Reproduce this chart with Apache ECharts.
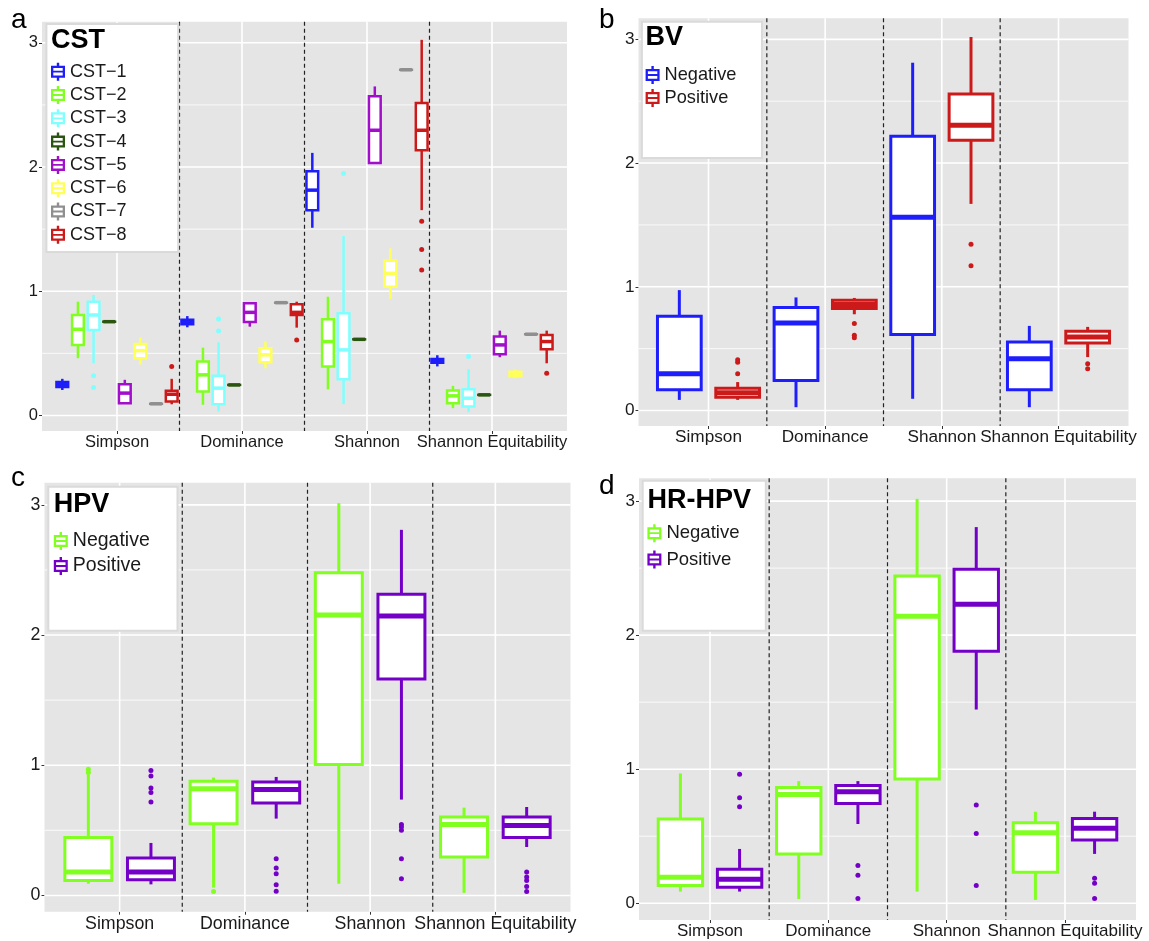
<!DOCTYPE html>
<html>
<head>
<meta charset="utf-8">
<script src="https://cdn.jsdelivr.net/npm/echarts@6/dist/echarts.min.js"></script>
<style>
html,body{margin:0;padding:0;background:#fff;}
#chart{width:1149px;height:941px;}
</style>
</head>
<body>
<div id="chart"></div>
<script>
// ---------- data ----------
const metrics = ['Simpson', 'Dominance', 'Shannon', 'Shannon Equitability'];
const yTicks = [0, 1, 2, 3];
const yMinor = [0.5, 1.5, 2.5];

// each stat row: [lower whisker, Q1, median, Q3, upper whisker], one row per metric
const cstNames = ['CST−1', 'CST−2', 'CST−3', 'CST−4', 'CST−5', 'CST−6', 'CST−7', 'CST−8'];
const cst1 = [[0.205, 0.23, 0.25, 0.27, 0.295], [0.71, 0.735, 0.753, 0.77, 0.80], [1.511, 1.653, 1.814, 1.966, 2.114], [0.395, 0.425, 0.439, 0.455, 0.485]];
const cst2 = [[0.461, 0.568, 0.694, 0.809, 0.916], [0.086, 0.193, 0.327, 0.434, 0.546], [0.21, 0.394, 0.595, 0.774, 0.956], [0.059, 0.099, 0.158, 0.201, 0.238]];
const cst3 = [[0.42, 0.688, 0.809, 0.916, 0.97], [0.032, 0.091, 0.22, 0.319, 0.589], [0.091, 0.292, 0.528, 0.822, 1.444], [0.027, 0.072, 0.139, 0.212, 0.372]];
const cst4 = [[0.755, 0.755, 0.755, 0.755, 0.755], [0.246, 0.246, 0.246, 0.246, 0.246], [0.613, 0.613, 0.613, 0.613, 0.613], [0.166, 0.166, 0.166, 0.166, 0.166]];
const cst5 = [[0.099, 0.099, 0.18, 0.252, 0.287], [0.715, 0.753, 0.83, 0.903, 0.903], [2.033, 2.033, 2.296, 2.569, 2.649], [0.469, 0.493, 0.568, 0.635, 0.683]];
const cst6 = [[0.41, 0.461, 0.522, 0.576, 0.627], [0.38, 0.429, 0.488, 0.541, 0.595], [0.938, 1.037, 1.144, 1.246, 1.345], [0.30, 0.315, 0.335, 0.352, 0.37]];
const cst7 = [[0.094, 0.094, 0.094, 0.094, 0.094], [0.908, 0.908, 0.908, 0.908, 0.908], [2.783, 2.783, 2.783, 2.783, 2.783], [0.654, 0.654, 0.654, 0.654, 0.654]];
const cst8 = [[0.09, 0.112, 0.171, 0.20, 0.295], [0.707, 0.809, 0.83, 0.895, 0.916], [1.653, 2.135, 2.296, 2.515, 3.024], [0.42, 0.533, 0.595, 0.648, 0.683]];
const cst3Out = [[0.32, 0.225], [0.777, 0.68], [1.948], [0.474]];
const cst8Out = [[0.394], [0.608], [1.564, 1.337, 1.171], [0.34]];
const noOut = [[], [], [], []];

const statusNames = ['Negative', 'Positive'];
const bvNeg = [[0.086, 0.168, 0.297, 0.762, 0.973], [0.027, 0.243, 0.708, 0.832, 0.914], [0.095, 0.614, 1.562, 2.216, 2.811], [0.027, 0.168, 0.419, 0.554, 0.684]];
const bvPos = [[0.086, 0.108, 0.143, 0.181, 0.23], [0.778, 0.824, 0.857, 0.892, 0.91], [1.67, 2.184, 2.305, 2.559, 3.019], [0.432, 0.546, 0.595, 0.641, 0.676]];
const bvPosOut = [[0.41, 0.39, 0.297], [0.703, 0.608, 0.589], [1.343, 1.17], [0.378, 0.338]];

const hpvNeg = [[0.09, 0.115, 0.179, 0.444, 0.93], [0.06, 0.551, 0.82, 0.877, 0.905], [0.09, 1.005, 2.154, 2.479, 3.013], [0.02, 0.295, 0.544, 0.603, 0.674]];
const hpvPos = [[0.085, 0.121, 0.179, 0.287, 0.403], [0.59, 0.71, 0.813, 0.872, 0.91], [0.736, 1.662, 2.146, 2.313, 2.808], [0.372, 0.444, 0.538, 0.603, 0.679]];
const hpvNegOut = [[0.97, 0.945], [0.03], [], []];
const hpvPosOut = [[0.96, 0.918, 0.826, 0.79, 0.718], [0.282, 0.21, 0.167, 0.082, 0.033], [0.544, 0.526, 0.50, 0.282, 0.128], [0.179, 0.141, 0.115, 0.069, 0.031]];

const hrNeg = [[0.087, 0.132, 0.194, 0.628, 0.968], [0.032, 0.368, 0.812, 0.864, 0.911], [0.087, 0.926, 2.14, 2.441, 3.017], [0.025, 0.231, 0.526, 0.601, 0.683]];
const hrPos = [[0.087, 0.119, 0.179, 0.253, 0.405], [0.591, 0.745, 0.832, 0.879, 0.911], [1.445, 1.88, 2.23, 2.491, 2.806], [0.368, 0.472, 0.559, 0.633, 0.683]];
const hrPosOut = [[0.963, 0.787, 0.72], [0.281, 0.209, 0.035], [0.733, 0.521, 0.132], [0.186, 0.149, 0.035]];

// ---------- styling / layout ----------
const FONT = '"Liberation Sans", Arial, Helvetica, sans-serif';
const C = {
  blue: '#1E1EFA', green: '#80FF20', cyan: '#80FFFF', dkgreen: '#2A5510',
  purpleA: '#A10FCB', yellow: '#FFFF5A', gray: '#8F8F8F', red: '#CC1A1A', purple: '#7400C8'
};
const ICON = 'path://M6.8,0H9.2V3H15V15H9.2V18H6.8V15H1V3H6.8Z M3.3,5.3V8.1H12.7V5.3Z M3.3,9.9V12.7H12.7V9.9Z';

const panels = [
  {
    key: 'CST', letter: 'a', heading: 'CST',
    grid: { left: 42, top: 21.7, width: 525, height: 409.3 },
    fs: 16.5, lw: 2.5, med: 3.5,
    letterPos: [11, 6], headPos: [51, 27],
    legendPos: [51, 62.7], legendFs: 18, legendGap: 5.3,
    box: [46.4, 24, 131.8, 228],
    groups: [
      { label: cstNames[0], color: C.blue, stats: cst1, out: noOut },
      { label: cstNames[1], color: C.green, stats: cst2, out: noOut },
      { label: cstNames[2], color: C.cyan, stats: cst3, out: cst3Out },
      { label: cstNames[3], color: C.dkgreen, stats: cst4, out: noOut },
      { label: cstNames[4], color: C.purpleA, stats: cst5, out: noOut },
      { label: cstNames[5], color: C.yellow, stats: cst6, out: noOut },
      { label: cstNames[6], color: C.gray, stats: cst7, out: noOut },
      { label: cstNames[7], color: C.red, stats: cst8, out: cst8Out }
    ]
  },
  {
    key: 'BV', letter: 'b', heading: 'BV',
    grid: { left: 638.5, top: 18.3, width: 490, height: 407.7 },
    fs: 17.2, lw: 3, med: 5,
    letterPos: [599, 6], headPos: [645.6, 24],
    legendPos: [645.6, 66], legendFs: 18.2, legendGap: 5,
    box: [641.9, 21.7, 120.1, 136.3],
    groups: [
      { label: statusNames[0], color: C.blue, stats: bvNeg, out: noOut },
      { label: statusNames[1], color: C.red, stats: bvPos, out: bvPosOut }
    ]
  },
  {
    key: 'HPV', letter: 'c', heading: 'HPV',
    grid: { left: 44.5, top: 482.7, width: 526, height: 429 },
    fs: 17.8, lw: 3, med: 5,
    letterPos: [11, 464], headPos: [53.8, 491],
    legendPos: [53.8, 531], legendFs: 19.5, legendGap: 5,
    box: [48.3, 486.7, 129.2, 144],
    groups: [
      { label: statusNames[0], color: C.green, stats: hpvNeg, out: hpvNegOut },
      { label: statusNames[1], color: C.purple, stats: hpvPos, out: hpvPosOut }
    ]
  },
  {
    key: 'HR-HPV', letter: 'd', heading: 'HR-HPV',
    grid: { left: 639, top: 478.3, width: 497, height: 441.7 },
    fs: 17, lw: 3, med: 5,
    letterPos: [599, 472], headPos: [647.4, 487],
    legendPos: [647.4, 523.7], legendFs: 18.5, legendGap: 7.3,
    box: [642.7, 480.7, 123.1, 150],
    groups: [
      { label: statusNames[0], color: C.green, stats: hrNeg, out: noOut },
      { label: statusNames[1], color: C.purple, stats: hrPos, out: hrPosOut }
    ]
  }
];

const YMIN = -0.125, YMAX = 3.17;

function boxRenderer(boxW, color, lw, medW) {
  return function (params, api) {
    const x = api.value(0);
    const lo = api.coord([x, api.value(1)]);
    const q1 = api.coord([x, api.value(2)]);
    const md = api.coord([x, api.value(3)]);
    const q3 = api.coord([x, api.value(4)]);
    const hi = api.coord([x, api.value(5)]);
    const half = api.size([boxW, 0])[0] / 2;
    const px = md[0];
    return {
      type: 'group',
      children: [
        { type: 'line', shape: { x1: px, y1: hi[1], x2: px, y2: q3[1] }, style: { stroke: color, lineWidth: lw } },
        { type: 'line', shape: { x1: px, y1: q1[1], x2: px, y2: lo[1] }, style: { stroke: color, lineWidth: lw } },
        { type: 'rect', shape: { x: px - half, y: q3[1], width: 2 * half, height: Math.max(q1[1] - q3[1], 0.01) }, style: { fill: '#fff', stroke: color, lineWidth: lw } },
        { type: 'line', shape: { x1: px - half, y1: md[1], x2: px + half, y2: md[1] }, style: { stroke: color, lineWidth: medW } }
      ]
    };
  };
}

function hLineSeries(gi, values, width) {
  return {
    type: 'custom', xAxisIndex: gi, yAxisIndex: gi, silent: true, z: 1,
    data: values.map(v => [1, v]), encode: { x: 0, y: 1 },
    renderItem: function (params, api) {
      const cs = params.coordSys;
      const y = api.coord([1, api.value(1)])[1];
      return { type: 'line', shape: { x1: cs.x, y1: y, x2: cs.x + cs.width, y2: y }, style: { stroke: '#ffffff', lineWidth: width } };
    }
  };
}
function vLineSeries(gi, values, stroke, width, dash) {
  return {
    type: 'custom', xAxisIndex: gi, yAxisIndex: gi, silent: true, z: 1,
    data: values.map(v => [v, 1]), encode: { x: 0, y: 1 },
    renderItem: function (params, api) {
      const cs = params.coordSys;
      const x = api.coord([api.value(0), 1])[0];
      return { type: 'line', shape: { x1: x, y1: cs.y, x2: x, y2: cs.y + cs.height }, style: { stroke: stroke, lineWidth: width, lineDash: dash } };
    }
  };
}

const option = {
  animation: false,
  backgroundColor: '#ffffff',
  textStyle: { fontFamily: FONT },
  grid: [], xAxis: [], yAxis: [], series: [], legend: [], title: [], graphic: []
};

const catPos = metrics.map((m, i) => i + 1);
const separators = metrics.slice(1).map((m, i) => i + 1.5);

panels.forEach((p, gi) => {
  option.grid.push(Object.assign({ show: true, backgroundColor: '#E5E5E5', borderWidth: 0 }, p.grid));
  option.xAxis.push({
    type: 'value', gridIndex: gi, min: 0.4, max: 4.6,
    axisLine: { show: false, onZero: false },
    splitLine: { show: false },
    axisTick: { show: true, customValues: catPos, length: 3, lineStyle: { color: '#333', width: 1 } },
    axisLabel: {
      customValues: catPos, margin: 3, fontSize: p.fs, color: '#1a1a1a', fontFamily: FONT,
      hideOverlap: false, showMinLabel: true, showMaxLabel: true,
      formatter: v => metrics[Math.round(v) - 1] || ''
    }
  });
  option.yAxis.push({
    type: 'value', gridIndex: gi, min: YMIN, max: YMAX,
    axisLine: { show: false, onZero: false },
    splitLine: { show: false },
    axisTick: { show: true, customValues: yTicks, length: 3, lineStyle: { color: '#333', width: 1 } },
    axisLabel: { customValues: yTicks, margin: 4, fontSize: p.fs, color: '#1a1a1a', fontFamily: FONT, hideOverlap: false }
  });
  option.series.push(hLineSeries(gi, yMinor, 0.8));
  option.series.push(hLineSeries(gi, yTicks, 1.6));
  option.series.push(vLineSeries(gi, catPos, '#ffffff', 1.6, null));
  option.series.push(vLineSeries(gi, separators, '#222222', 1.2, [4, 3]));

  const n = p.groups.length;
  const boxW = 0.75 / n;
  p.groups.forEach((g, k) => {
    const off = -0.5 + (k + 0.5) / n;
    const name = p.key + '|' + g.label;
    option.series.push({
      type: 'custom', name: name, xAxisIndex: gi, yAxisIndex: gi, z: 3,
      itemStyle: { color: g.color },
      encode: { x: 0, y: [1, 2, 3, 4, 5] },
      data: g.stats.map((s, mi) => [mi + 1 + off].concat(s)),
      renderItem: boxRenderer(boxW, g.color, p.lw, p.med)
    });
    const pts = [];
    g.out.forEach((arr, mi) => arr.forEach(v => pts.push([mi + 1 + off, v])));
    if (pts.length) {
      option.series.push({
        type: 'scatter', name: name, xAxisIndex: gi, yAxisIndex: gi, z: 4,
        symbolSize: 5, itemStyle: { color: g.color, opacity: 1 }, data: pts, silent: true
      });
    }
  });

  option.graphic.push({
    type: 'rect', z: 50, silent: true,
    shape: { x: p.box[0], y: p.box[1], width: p.box[2], height: p.box[3] },
    style: { fill: '#ffffff', stroke: '#DADADA', lineWidth: 2 }
  });
  option.legend.push({
    left: p.legendPos[0], top: p.legendPos[1], orient: 'vertical', padding: 0,
    itemWidth: 16, itemHeight: 18, itemGap: p.legendGap, selectedMode: false, z: 60,
    data: p.groups.map(g => ({ name: p.key + '|' + g.label, icon: ICON, itemStyle: { color: g.color, borderWidth: 0 } })),
    formatter: nm => nm.split('|')[1],
    textStyle: { fontSize: p.legendFs, color: '#1a1a1a', fontFamily: FONT, padding: [0, 0, 0, -1] }
  });
  option.title.push({
    text: p.letter, left: p.letterPos[0], top: p.letterPos[1], padding: 0, z: 60,
    textStyle: { fontSize: 28, fontWeight: 'normal', color: '#000', fontFamily: FONT }
  });
  option.title.push({
    text: p.heading, left: p.headPos[0], top: p.headPos[1], padding: 0, z: 60,
    textStyle: { fontSize: 27, fontWeight: 'bold', color: '#000', fontFamily: FONT }
  });
});

const chart = echarts.init(document.getElementById('chart'), null, { renderer: 'canvas' });
chart.setOption(option);
</script>
</body>
</html>
